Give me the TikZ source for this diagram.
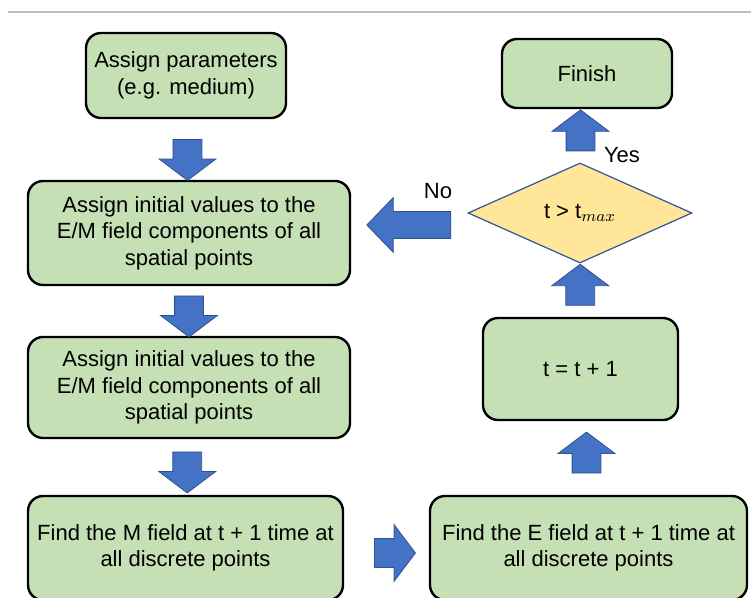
\documentclass[tikz,border=0pt]{standalone}
\usepackage{fontspec}
\setmainfont{Liberation Sans}
\usetikzlibrary{shapes.geometric,shapes.arrows,calc}

\definecolor{boxgreen}{HTML}{C5E0B4}
\definecolor{arrowblue}{HTML}{4472C4}
\definecolor{arrowedge}{HTML}{2F528F}
\definecolor{decyellow}{HTML}{FFE699}
\definecolor{decedge}{HTML}{2F5597}
\definecolor{rulegray}{HTML}{BFBFBF}

\tikzset{
  stepbox/.style={draw=black,line width=1.2pt,fill=boxgreen,rounded corners=7.5pt,align=center,inner sep=2pt},
  blockarrow/.style={single arrow,draw=arrowedge,line width=0.4pt,fill=arrowblue,inner xsep=0pt,inner ysep=7pt,
    single arrow head extend=7pt,single arrow tip angle=106,minimum height=20.5pt},
  decision/.style={diamond,draw=decedge,line width=0.6pt,fill=decyellow,aspect=2.24,inner sep=1pt,
    minimum width=112pt,minimum height=50pt}
}

\begin{document}
\begin{tikzpicture}[x=0.5pt,y=-0.5pt,font=\fontsize{11}{13.2}\selectfont]
\useasboundingbox (0,0) rectangle (751,598);
\draw[rulegray,line width=0.6pt] (8,12) -- (751,12);

\node [stepbox,minimum width=100pt,minimum height=42.5pt] (params) at(186,75.5){Assign parameters\\(e.g. medium)};
\node [stepbox,minimum width=161pt,minimum height=52pt] (init1) at(189,233){Assign initial values to the\\E/M field components of all\\spatial points};
\node [stepbox,minimum width=161pt,minimum height=50.5pt] (init2) at(189,387.5){Assign initial values to the\\E/M field components of all\\spatial points};
\node [stepbox,minimum width=157.5pt,minimum height=52pt] (mfield) at(185.5,548){Find the M field at t + 1 time at\\all discrete points};
\node [stepbox,minimum width=158.5pt,minimum height=52pt] (efield) at(588.5,548){Find the E field at t + 1 time at\\all discrete points};
\node [stepbox,minimum width=97.5pt,minimum height=51pt] (tstep) at(580.5,369){t = t + 1};
\node [decision] (check) at(580,213){t > t$_{max}$};
\node [stepbox,minimum width=85pt,minimum height=34.5pt] (finish) at(587,73.5){Finish};

\node [blockarrow,yshift=-2.5pt,rotate=-90] (a1) at($(params.south)!0.5!(init1.north)$){};
\node [blockarrow,rotate=-90] (a2) at($(init1.south)!0.5!(init2.north)$){};
\node [blockarrow,rotate=-90] (a3) at($(init2.south)!0.5!(mfield.north)$){};
\node [blockarrow,yshift=-2.5pt,xshift=1.5pt] (a4) at($(mfield.east)!0.5!(efield.west)$){};
\node [blockarrow,xshift=1pt,rotate=90] (a5) at($(tstep.south)!0.5!(efield.north)$){};
\node [blockarrow,rotate=90] (a6) at($(check.south)!0.5!(tstep.north)$){};
\node [blockarrow,xshift=-1.5pt,rotate=90] (a7) at($(finish.south)!0.5!(check.north)$){};
\node [blockarrow,yshift=-1pt,xshift=3pt,rotate=180,minimum height=42pt,inner ysep=6.5pt,single arrow tip angle=92] (a8) at($(init1.east)!0.5!(check.west)$){};

\node (no) at(438,191){No};
\node (yes) at(622,155){Yes};
\end{tikzpicture}
\end{document}
